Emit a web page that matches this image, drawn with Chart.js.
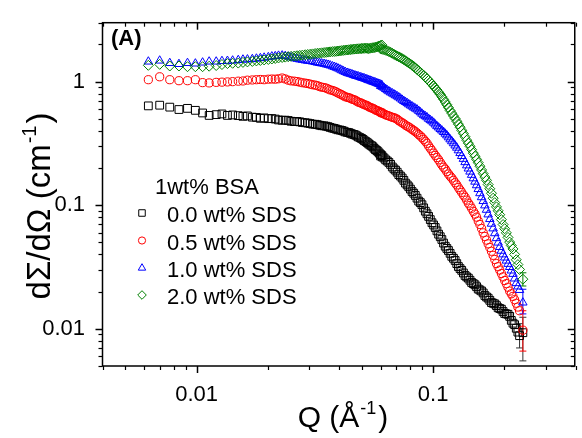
<!DOCTYPE html>
<html><head><meta charset="utf-8">
<script src="https://cdn.jsdelivr.net/npm/chart.js@4.4.1/dist/chart.umd.min.js"></script>
<style>html,body{margin:0;padding:0;background:#fff;}canvas{display:block;}</style>
</head><body>
<canvas id="c" width="582" height="438"></canvas>
<script>
// ---------- data ----------
// main Q grid
const Q = [0.00625,0.00698,0.00770,0.00842,0.00915,0.00988,0.0106,0.0113,0.0121,0.0128,0.0135,0.0142,0.0150,0.0157,0.0164,0.0172,0.0179,0.0186,0.0193,0.0201,
0.0215,0.0230,0.0244,0.0259,0.0273,0.0288,0.0302,0.0317,0.0331,0.0346,0.0360,0.0375,0.0389,0.0404,0.0418,0.0433,0.0447,0.0462,0.0476,0.0491,0.0505,0.0520,0.0534,0.0549,0.0563,0.0578,0.0592,0.0607,
0.0600,0.0620,0.0640,0.0661,0.0683,0.0705,0.0728,0.0752,0.0777,0.0802,0.0828,0.0855,0.0883,0.0912,0.0942,0.0973,0.1005,0.1038,0.1072,0.1107,0.1143,0.1180,0.1219,0.1259,0.1300,0.1343,0.1387,0.1432,0.1479,0.1527,0.1577,0.1629,0.1682,0.1737,0.1794,0.1853,0.1913,0.1976,0.2040,0.2107,0.2176,0.2247,0.2320,0.2396];
// additional Q points where the reference is densely sampled
const Q2 = [0.0208,0.0222,0.0237,0.0251,0.0266,0.0280,0.0295,0.0309,0.0324,0.0338,0.0353,0.0367,0.0382,0.0396,0.0411,0.0425,0.0440,0.0454,0.0469,0.0483,0.0498,0.0512,0.0527,0.0541,0.0556,0.0570,0.0585,0.0600,
0.0610,0.0630,0.0650,0.0672,0.0694,0.0716,0.0740,0.0764,0.0789,0.0815,0.0841,0.0869,0.0897,0.0927,0.0957,0.0989,0.1021,0.1055,0.1089,0.1125,0.1161,0.1199,0.1239,0.1279,0.1321,0.1365,0.1409,0.1455,0.1503,0.1552,0.1603,0.1655,0.1709,0.1765,0.1823,0.1883,0.1944,0.2008,0.2073,0.2141,0.2211,0.2283];

const sds00 = [0.637,0.645,0.622,0.595,0.608,0.586,0.558,0.533,0.541,0.548,0.533,0.538,0.531,0.524,0.528,0.516,0.514,0.505,0.509,0.502,
0.498,0.487,0.485,0.475,0.473,0.465,0.458,0.452,0.444,0.439,0.432,0.421,0.413,0.406,0.398,0.389,0.382,0.374,0.364,0.352,0.341,0.327,0.314,0.303,0.289,0.277,0.264,0.252,
0.250,0.241,0.228,0.214,0.197,0.185,0.172,0.159,0.146,0.135,0.125,0.114,0.105,0.0952,0.0853,0.0765,0.0692,0.0620,0.0556,0.0494,0.0447,0.0408,0.0372,0.0337,0.0307,0.0283,0.0263,0.0247,0.0232,0.0219,0.0206,0.0195,0.0181,0.0170,0.0161,0.0154,0.0146,0.0138,0.0132,0.0126,0.0111,0.0101,0.0088,0.0093];
const sds00b = [0.503,0.490,0.488,0.478,0.476,0.467,0.462,0.453,0.449,0.440,0.436,0.426,0.418,0.408,0.403,0.392,0.387,0.377,0.370,0.357,0.347,0.333,0.321,0.308,0.297,0.282,0.271,0.257,
0.246,0.233,0.222,0.204,0.192,0.177,0.166,0.151,0.141,0.129,0.120,0.108,0.101,0.0895,0.0812,0.0722,0.0660,0.0583,0.0528,0.0466,0.0430,0.0386,0.0357,0.0319,0.0297,0.0270,0.0257,0.0237,0.0227,0.0210,0.0202,0.0186,0.0177,0.0163,0.0159,0.0148,0.0144,0.0133,0.0131,0.0117,0.0108,0.0094];

const sds05 = [1.037,1.095,1.037,1.018,1.018,1.037,0.982,0.977,0.987,0.991,0.995,1.000,1.009,1.013,1.028,1.032,1.037,1.041,1.037,1.047,
1.047,1.070,1.028,1.009,0.991,0.973,0.955,0.938,0.913,0.896,0.872,0.849,0.826,0.796,0.768,0.747,0.734,0.716,0.694,0.676,0.660,0.645,0.628,0.613,0.600,0.584,0.573,0.563,
0.560,0.548,0.533,0.521,0.511,0.496,0.473,0.456,0.436,0.421,0.403,0.384,0.364,0.341,0.317,0.289,0.264,0.243,0.222,0.203,0.187,0.172,0.159,0.146,0.133,0.121,0.110,0.0996,0.0893,0.0801,0.0698,0.0598,0.0522,0.0455,0.0393,0.0337,0.0299,0.0263,0.0232,0.0202,0.0183,0.0161,0.0140,0.00975];
const sds05b = [1.050,1.055,1.052,1.015,1.002,0.980,0.966,0.944,0.928,0.902,0.886,0.858,0.839,0.810,0.783,0.755,0.742,0.722,0.707,0.683,0.669,0.651,0.638,0.619,0.608,0.591,0.580,0.566,
0.555,0.539,0.528,0.515,0.505,0.484,0.465,0.445,0.429,0.411,0.394,0.373,0.353,0.329,0.302,0.277,0.253,0.233,0.212,0.196,0.179,0.166,0.152,0.139,0.127,0.116,0.104,0.0945,0.0848,0.0745,0.0648,0.0559,0.0487,0.0424,0.0364,0.0318,0.0280,0.0246,0.0217,0.0192,0.0172,0.0150];

const sds10 = [1.453,1.480,1.414,1.388,1.414,1.401,1.427,1.453,1.453,1.467,1.472,1.480,1.494,1.507,1.512,1.521,1.535,1.549,1.563,1.577,
1.607,1.627,1.592,1.549,1.512,1.485,1.467,1.440,1.414,1.393,1.368,1.331,1.298,1.256,1.215,1.178,1.157,1.130,1.110,1.089,1.070,1.050,1.028,1.009,0.991,0.973,0.955,0.938,
0.921,0.892,0.852,0.818,0.789,0.761,0.730,0.697,0.670,0.642,0.617,0.595,0.565,0.535,0.514,0.488,0.465,0.436,0.413,0.391,0.367,0.341,0.317,0.292,0.264,0.237,0.210,0.187,0.165,0.145,0.125,0.108,0.0918,0.0772,0.0649,0.0541,0.0459,0.0400,0.0356,0.0316,0.0278,0.0234,0.0206,0.0163];
const sds10b = [1.598,1.620,1.612,1.570,1.528,1.500,1.474,1.455,1.425,1.405,1.379,1.352,1.316,1.279,1.234,1.198,1.166,1.145,1.118,1.101,1.078,1.061,1.038,1.020,0.999,0.983,0.963,0.947,
0.907,0.871,0.835,0.804,0.775,0.746,0.713,0.684,0.655,0.630,0.606,0.580,0.550,0.525,0.500,0.477,0.450,0.425,0.402,0.379,0.354,0.329,0.304,0.278,0.250,0.223,0.198,0.176,0.155,0.135,0.116,0.0996,0.0842,0.0708,0.0593,0.0498,0.0428,0.0377,0.0335,0.0296,0.0255,0.0220];

const sds20 = [1.356,1.381,1.339,1.339,1.322,1.322,1.322,1.334,1.351,1.376,1.401,1.409,1.414,1.432,1.445,1.458,1.472,1.485,1.499,1.512,
1.540,1.569,1.592,1.612,1.630,1.651,1.666,1.688,1.703,1.719,1.735,1.751,1.760,1.776,1.792,1.805,1.819,1.832,1.842,1.849,1.859,1.866,1.852,1.876,1.886,1.910,1.945,1.981,
1.842,1.815,1.776,1.728,1.666,1.612,1.563,1.507,1.445,1.388,1.327,1.256,1.189,1.126,1.056,0.991,0.921,0.856,0.789,0.720,0.651,0.584,0.528,0.478,0.428,0.380,0.336,0.300,0.264,0.235,0.207,0.180,0.159,0.136,0.114,0.0970,0.0838,0.0698,0.0598,0.0503,0.0443,0.0362,0.0302,0.0252];
const sds20b = [1.526,1.555,1.580,1.603,1.621,1.640,1.659,1.677,1.695,1.711,1.727,1.743,1.755,1.768,1.784,1.799,1.812,1.826,1.837,1.845,1.854,1.862,1.860,1.864,1.881,1.898,1.927,1.962,
1.828,1.795,1.752,1.697,1.639,1.587,1.535,1.476,1.416,1.357,1.291,1.222,1.157,1.091,1.023,0.956,0.888,0.822,0.754,0.685,0.617,0.556,0.503,0.453,0.404,0.358,0.318,0.282,0.249,0.221,0.193,0.169,0.147,0.125,0.105,0.0902,0.0765,0.0646,0.0549,0.0472,0.0400,0.0331];

// error bars (visible only at the last points)
const errQ00 = [0.2320, 0.2396], errLo00 = [0.0070, 0.0055], errHi00 = [0.0110, 0.0124];
const errQ05 = [0.2396], errLo05 = [0.0066], errHi05 = [0.0140];
const errQ10 = [0.2396], errLo10 = [0.0132], errHi10 = [0.0209];
const errQ20 = [0.2396], errLo20 = [0.0222], errHi20 = [0.0284];

const seriesLabels = ['0.0 wt% SDS', '0.5 wt% SDS', '1.0 wt% SDS', '2.0 wt% SDS'];
const legendTitle = '1wt% BSA';
const panelLabel = '(A)';

const xMajorTicks = [0.01, 0.1];
const xTickLabels = ['0.01', '0.1'];
const xMinorTicks = [0.004,0.005,0.006,0.007,0.008,0.009,0.02,0.03,0.04,0.05,0.06,0.07,0.08,0.09,0.2,0.3,0.4];
const yMajorTicks = [0.01, 0.1, 1];
const yTickLabels = ['0.01', '0.1', '1'];
const yMinorTicks = [0.005,0.006,0.007,0.008,0.009,0.02,0.03,0.04,0.05,0.06,0.07,0.08,0.09,0.2,0.3,0.4,0.5,0.6,0.7,0.8,0.9,2,3];

// ---------- styling ----------
const FONT = '"Liberation Sans", Arial, sans-serif';
const series = [
  {a: sds00, b: sds00b, color: '#000000', style: 'rect',     r: 5.5, lr: 4.6, eq: errQ00, elo: errLo00, ehi: errHi00, ecol: '#333333', order: 4},
  {a: sds05, b: sds05b, color: '#ff0000', style: 'circle',   r: 4.1, lr: 3.6, eq: errQ05, elo: errLo05, ehi: errHi05, ecol: '#ff0000', order: 3},
  {a: sds10, b: sds10b, color: '#0000ff', style: 'triangle', r: 4.9, lr: 4.3, eq: errQ10, elo: errLo10, ehi: errHi10, ecol: '#0000ff', order: 2},
  {a: sds20, b: sds20b, color: '#008000', style: 'rectRot',  r: 5.0, lr: 4.3, eq: errQ20, elo: errLo20, ehi: errHi20, ecol: '#008000', order: 1}
];

const datasets = series.map((s, i) => ({
  label: seriesLabels[i],
  data: Q.map((q, k) => ({x: q, y: s.a[k]})).concat(Q2.map((q, k) => ({x: q, y: s.b[k]}))),
  pointStyle: s.style,
  pointRadius: s.r,
  pointBorderWidth: 1,
  borderColor: s.color,
  backgroundColor: 'rgba(0,0,0,0)',
  showLine: false,
  order: s.order
}));

const errorBars = {
  id: 'errorBars',
  beforeDatasetsDraw(chart) {
    const {ctx, chartArea: a, scales: {x, y}} = chart;
    ctx.save();
    ctx.beginPath(); ctx.rect(a.left, a.top, a.right - a.left, a.bottom - a.top); ctx.clip();
    ctx.lineWidth = 1;
    series.forEach(s => {
      ctx.strokeStyle = s.ecol;
      s.eq.forEach((q, k) => {
        const px = x.getPixelForValue(q);
        const p1 = y.getPixelForValue(s.ehi[k]);
        const p2 = y.getPixelForValue(s.elo[k]);
        ctx.beginPath();
        ctx.moveTo(px, p1); ctx.lineTo(px, p2);
        ctx.moveTo(px - 3.5, p1); ctx.lineTo(px + 3.5, p1);
        ctx.moveTo(px - 3.5, p2); ctx.lineTo(px + 3.5, p2);
        ctx.stroke();
      });
    });
    ctx.restore();
  }
};

const frame = {
  id: 'frame',
  afterDraw(chart) {
    const {ctx, chartArea: a, scales: {x, y}} = chart;
    const L = a.left, R = a.right - 0.75, T = a.top, B = a.bottom;
    ctx.save();
    ctx.strokeStyle = '#000';
    ctx.lineWidth = 1.5;
    ctx.strokeRect(L, T, R - L, B - T);
    const tick = (vals, len) => {
      vals.forEach(v => {
        const px = Math.round(x.getPixelForValue(v)) + 0.5;
        ctx.beginPath(); ctx.moveTo(px, B); ctx.lineTo(px, B + len); ctx.stroke();
        ctx.beginPath(); ctx.moveTo(px, T); ctx.lineTo(px, T + len); ctx.stroke();
      });
    };
    const ytick = (vals, len) => {
      vals.forEach(v => {
        const py = Math.round(y.getPixelForValue(v)) + 0.5;
        ctx.beginPath(); ctx.moveTo(L, py); ctx.lineTo(L - len, py); ctx.stroke();
        ctx.beginPath(); ctx.moveTo(R, py); ctx.lineTo(R - len, py); ctx.stroke();
      });
    };
    ctx.lineWidth = 1.5;
    tick(xMajorTicks, 7); ytick(yMajorTicks, 7);
    ctx.lineWidth = 1.2;
    tick(xMinorTicks, 4); ytick(yMinorTicks, 4);
    ctx.restore();
  }
};

function drawSupText(ctx, main, sup, tail, size, cx, baseY) {
  const big = size + 'px ' + FONT, small = Math.round(size * 0.6) + 'px ' + FONT;
  ctx.font = big; const w1 = ctx.measureText(main).width; const w3 = ctx.measureText(tail).width;
  ctx.font = small; const w2 = ctx.measureText(sup).width;
  const sx = cx - (w1 + w2 + w3 + 3) / 2;
  ctx.textAlign = 'left'; ctx.textBaseline = 'alphabetic';
  ctx.font = big; ctx.fillText(main, sx, baseY);
  ctx.font = small; ctx.fillText(sup, sx + w1 + 1, baseY - size * 0.42);
  ctx.font = big; ctx.fillText(tail, sx + w1 + w2 + 3, baseY);
}

const texts = {
  id: 'texts',
  afterDraw(chart) {
    const ctx = chart.ctx;
    ctx.save();
    ctx.fillStyle = '#000';
    // axis titles
    drawSupText(ctx, 'Q (Å', '-1', ')', 30, 343, 427);
    ctx.save();
    ctx.translate(50, 206);
    ctx.rotate(-Math.PI / 2);
    drawSupText(ctx, 'dΣ/dΩ (cm', '-1', ')', 33, 0, 0);
    ctx.restore();
    // panel label
    ctx.font = 'bold 22px ' + FONT;
    ctx.textAlign = 'left'; ctx.textBaseline = 'alphabetic';
    ctx.fillText(panelLabel, 111, 45);
    // legend
    ctx.font = '22px ' + FONT;
    ctx.fillText(legendTitle, 155, 193.5);
    const base = [222, 249.5, 277, 304];
    series.forEach((s, i) => {
      ctx.fillStyle = '#000';
      ctx.fillText(seriesLabels[i], 167, base[i]);
      ctx.strokeStyle = s.color; ctx.fillStyle = 'rgba(0,0,0,0)'; ctx.lineWidth = 1;
      Chart.helpers.drawPoint(ctx, {pointStyle: s.style, radius: s.lr, rotation: 0, borderWidth: 1}, 142, base[i] - 9);
    });
    ctx.restore();
  }
};

new Chart(document.getElementById('c'), {
  type: 'scatter',
  data: {datasets},
  options: {
    responsive: false, animation: false, devicePixelRatio: 1,
    layout: {padding: {top: 15.5, right: 0, bottom: 0, left: 0}},
    plugins: {legend: {display: false}, tooltip: {enabled: false}},
    scales: {
      x: {
        type: 'logarithmic', min: 0.004, max: 0.4, position: 'bottom',
        grid: {display: false}, border: {display: false},
        ticks: {autoSkip: false, maxRotation: 0, padding: 8, color: '#000', font: {family: FONT, size: 22},
          callback: (v) => { const i = xMajorTicks.indexOf(v); return i >= 0 ? xTickLabels[i] : ''; }},
        afterBuildTicks: (s) => { s.ticks = xMajorTicks.map(v => ({value: v})); },
        afterFit: (s) => { s.height = 72; }
      },
      y: {
        type: 'logarithmic', min: 0.005, max: 3, position: 'left',
        grid: {display: false}, border: {display: false},
        ticks: {autoSkip: false, padding: 9.5, color: '#000', font: {family: FONT, size: 22},
          callback: (v) => { const i = yMajorTicks.indexOf(v); return i >= 0 ? yTickLabels[i] : ''; }},
        afterBuildTicks: (s) => { s.ticks = yMajorTicks.map(v => ({value: v})); },
        afterFit: (s) => { s.width = 102.5; }
      }
    }
  },
  plugins: [errorBars, frame, texts]
});
</script>
</body></html>
